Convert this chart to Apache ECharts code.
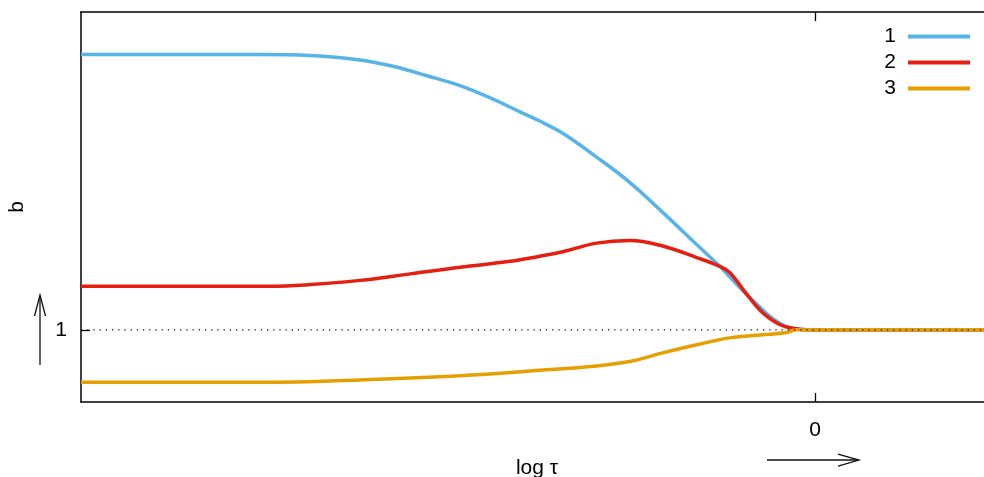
<!DOCTYPE html>
<html>
<head>
<meta charset="utf-8">
<script src="https://cdn.jsdelivr.net/npm/echarts@6/dist/echarts.min.js"></script>
<style>html,body{margin:0;padding:0;background:#fff;overflow:hidden}#c{width:992px;height:477px}</style>
</head>
<body>
<div id="c"></div>
<script>
// log tau values and b values
var seriesNames = ['1', '2', '3'];
var xTickValues = [0];
var yTickValues = [1];

var x1 = [-8, -6.05, -5.50, -4.96, -4.60, -4.23, -3.87, -3.51, -3.22, -3.00, -2.75, -2.38, -2.02, -1.66, -1.29, -1.035, -0.85, -0.63, -0.41, -0.20, 0, 1.929];
var b1 = [2.905, 2.905, 2.898, 2.868, 2.824, 2.759, 2.690, 2.597, 2.510, 2.445, 2.360, 2.195, 2.021, 1.813, 1.590, 1.438, 1.313, 1.174, 1.056, 1.003, 1.0, 1.0];

var x2 = [-8, -5.94, -5.50, -4.96, -4.41, -3.87, -3.32, -3.00, -2.75, -2.38, -2.02, -1.66, -1.29, -1.035, -0.93, -0.74, -0.57, -0.38, -0.20, -0.09, 0, 1.929];
var b2 = [1.301, 1.301, 1.313, 1.342, 1.387, 1.433, 1.474, 1.509, 1.540, 1.600, 1.618, 1.580, 1.500, 1.438, 1.396, 1.243, 1.118, 1.035, 1.007, 1.0, 1.0, 1.0];

var x3 = [-8, -6.00, -4.96, -3.87, -3.00, -2.38, -2.02, -1.66, -1.29, -0.93, -0.57, -0.31, -0.20, 0, 1.929];
var b3 = [0.637, 0.637, 0.653, 0.681, 0.719, 0.750, 0.780, 0.840, 0.896, 0.944, 0.965, 0.981, 1.0, 1.0, 1.0];

var refX = [-8, 1.929];
var refB = [1, 1];

function pairs(xs, ys) { return xs.map(function (v, i) { return [v, ys[i]]; }); }

var FONT = 'Liberation Sans, Arial, sans-serif';
var colors = ['#56B4E9', '#E51E10', '#E69F00'];

var chart = echarts.init(document.getElementById('c'));
var axisLine = { show: true, onZero: false, lineStyle: { color: '#000', width: 1.5 } };
var axisTick = { inside: true, length: 9, lineStyle: { color: '#000', width: 1.3 } };

chart.setOption({
  animation: false,
  backgroundColor: '#fff',
  grid: { left: 81, top: 12, right: 0, bottom: 75, show: false },
  legend: {
    data: seriesNames,
    orient: 'vertical',
    right: 22,
    top: 26,
    padding: 0,
    align: 'right',
    icon: 'rect',
    itemWidth: 62,
    itemHeight: 4,
    itemGap: 5,
    textStyle: { fontFamily: FONT, fontSize: 21, color: '#000', padding: [0, 7, 0, 0] },
    selectedMode: false
  },
  xAxis: [
    { type: 'value', position: 'bottom', min: -8, max: 1.929, interval: 8,
      axisLine: axisLine, splitLine: { show: false },
      axisTick: Object.assign({ customValues: xTickValues }, axisTick),
      axisLabel: { customValues: xTickValues, fontFamily: FONT, fontSize: 21, color: '#000', margin: 18 } },
    { type: 'value', position: 'top', min: -8, max: 1.929, interval: 8,
      axisLine: axisLine, splitLine: { show: false },
      axisTick: Object.assign({ customValues: xTickValues }, axisTick),
      axisLabel: { show: false } }
  ],
  yAxis: [
    { type: 'value', position: 'left', min: 0.5, max: 3.2, interval: 0.5,
      axisLine: axisLine, splitLine: { show: false },
      axisTick: Object.assign({ customValues: yTickValues }, axisTick),
      axisLabel: { customValues: yTickValues, fontFamily: FONT, fontSize: 21, color: '#000', margin: 14 } }
  ],
  series: [
    { name: seriesNames[0], type: 'line', data: pairs(x1, b1), smooth: 0.4,
      showSymbol: false, color: colors[0], lineStyle: { width: 3.5, color: colors[0] }, z: 2 },
    { name: seriesNames[1], type: 'line', data: pairs(x2, b2), smooth: 0.4,
      showSymbol: false, color: colors[1], lineStyle: { width: 3.5, color: colors[1] }, z: 3 },
    { name: seriesNames[2], type: 'line', data: pairs(x3, b3), smooth: 0.4,
      showSymbol: false, color: colors[2], lineStyle: { width: 3.5, color: colors[2] }, z: 4 },
    { name: 'ref', type: 'line', data: pairs(refX, refB), showSymbol: false, silent: true,
      lineStyle: { width: 1.2, color: '#000', type: [1.2, 5] }, z: 5 }
  ],
  graphic: [
    { type: 'text', x: 17, y: 207, rotation: Math.PI / 2,
      style: { text: 'b', font: '21px ' + FONT, fill: '#000', align: 'center', verticalAlign: 'middle' } },
    { type: 'text', x: 537, y: 468,
      style: { text: 'log τ', font: '21px ' + FONT, fill: '#000', align: 'center', verticalAlign: 'middle' } },
    { type: 'line', shape: { x1: 40, y1: 365, x2: 40, y2: 296 }, style: { stroke: '#111', lineWidth: 1.3 } },
    { type: 'polyline', shape: { points: [[34.5, 316], [40, 295], [45.5, 316]] }, style: { stroke: '#111', lineWidth: 1.3, fill: null } },
    { type: 'line', shape: { x1: 767, y1: 460, x2: 858, y2: 460 }, style: { stroke: '#111', lineWidth: 1.3 } },
    { type: 'polyline', shape: { points: [[838, 454], [859, 460], [838, 466]] }, style: { stroke: '#111', lineWidth: 1.3, fill: null } }
  ]
});
</script>
</body>
</html>
